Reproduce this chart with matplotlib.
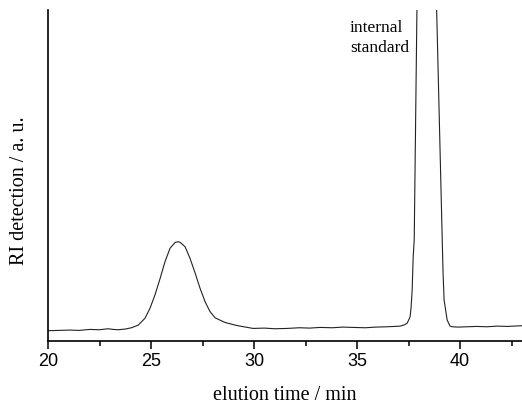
import matplotlib
matplotlib.use('Agg')
import matplotlib.pyplot as plt
from matplotlib.ticker import MultipleLocator

# elution time (min) and RI signal (a.u., 0-100 = visible range)
t = [20.0, 20.5, 21.07, 21.5, 22.04, 22.5, 22.91, 23.15, 23.4, 23.74, 24.05, 24.38, 24.71, 24.95,
     25.19, 25.44, 25.68, 25.92, 26.17, 26.33, 26.41, 26.65, 26.89, 27.14, 27.38, 27.62,
     27.86, 28.11, 28.59, 29.08, 29.32, 29.95, 30.5, 31.0, 31.6, 32.2, 32.7, 33.2, 33.8,
     34.3, 34.81, 35.4, 35.9, 36.46, 36.8, 37.09, 37.3, 37.43, 37.57, 37.62, 37.67, 37.72,
     37.77, 37.93, 38.37, 38.80, 39.13, 39.17, 39.22, 39.37, 39.51, 39.61, 39.9, 40.34,
     40.8, 41.3, 41.8, 42.3, 42.91, 43.0]
ri = [3.1, 3.2, 3.3, 3.2, 3.5, 3.4, 3.7, 3.5, 3.4, 3.6, 4.0, 4.8, 6.9, 9.9,
      13.9, 18.9, 24.0, 28.0, 29.8, 30.0, 29.8, 28.5, 25.0, 20.5, 15.9, 11.9,
      8.9, 7.0, 5.6, 4.8, 4.5, 3.8, 3.9, 3.7, 3.8, 4.0, 3.9, 4.1, 4.0,
      4.2, 4.1, 4.0, 4.2, 4.3, 4.4, 4.5, 4.9, 5.4, 7.3, 10.3, 15.4, 25.4,
      30.5, 115.0, 180.0, 115.0, 30.5, 20.5, 12.4, 6.3, 4.5, 4.3, 4.2, 4.3,
      4.4, 4.3, 4.5, 4.4, 4.6, 4.6]

fig = plt.figure(figsize=(5.22, 4.08), dpi=100)
ax = fig.add_axes([48/522, 67/408, 474/522, 331/408])

ax.plot(t, ri, color='#222222', lw=0.8)
ax.set_xlim(20, 43)
ax.set_ylim(0, 100)

for s in ['top', 'right']:
    ax.spines[s].set_visible(False)
for s in ['left', 'bottom']:
    ax.spines[s].set_linewidth(1.2)

ax.set_yticks([])
ax.xaxis.set_major_locator(MultipleLocator(5))
ax.xaxis.set_minor_locator(MultipleLocator(2.5))
ax.tick_params(axis='x', which='major', direction='out', length=6, width=1.1, pad=3,
               labelsize=13)
ax.tick_params(axis='x', which='minor', direction='out', length=3.5, width=1.1)
for lb in ax.get_xticklabels():
    lb.set_fontfamily('Liberation Sans')

ax.set_xlabel('elution time / min', fontfamily='Liberation Serif', fontsize=14.5, labelpad=11)
ax.set_ylabel('RI detection / a. u.', fontfamily='Liberation Serif', fontsize=14.5, va='center')
ax.yaxis.set_label_coords(-0.06, 0.455)

ax.text(34.66, 97, 'internal\nstandard', fontfamily='Liberation Serif', fontsize=12.5,
        va='top', ha='left', linespacing=1.35)

fig.savefig('out.png', dpi=100)
